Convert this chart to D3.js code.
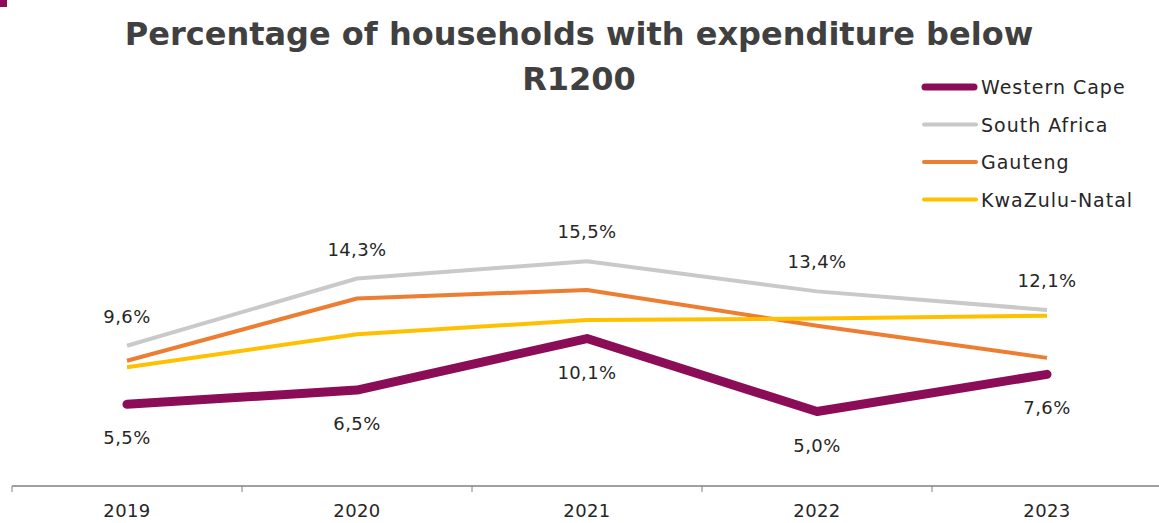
<!DOCTYPE html>
<html>
<head>
<meta charset="utf-8">
<script src="https://cdn.jsdelivr.net/npm/d3@7"></script>
<style>
    body { margin: 0; background: #fff; }
    svg { display: block; font-family: 'DejaVu Sans', sans-serif; }
</style>
</head>
<body>
<div id="chart"></div>
<script>
// Chart data
const years = ['2019', '2020', '2021', '2022', '2023'];
const westernCape = [5.5, 6.5, 10.1, 5.0, 7.6];
const southAfrica = [9.6, 14.3, 15.5, 13.4, 12.1];
const gauteng = [8.55, 12.9, 13.5, 11.0, 8.75];
const kwaZuluNatal = [8.1, 10.4, 11.4, 11.5, 11.7];
const seriesNames = ['Western Cape', 'South Africa', 'Gauteng', 'KwaZulu-Natal'];

const width = 1159,
    height = 523;

const svg = d3
    .select('#chart')
    .append('svg')
    .attr('width', width)
    .attr('height', height);

// small accent square in the corner
svg.append('rect').attr('x', 0).attr('y', 0).attr('width', 7).attr('height', 7).attr('fill', '#8B0D57');

// title
const title = svg
    .append('text')
    .attr('text-anchor', 'middle')
    .attr('fill', '#404040')
    .attr('font-weight', 'bold')
    .attr('font-size', 32);
title.append('tspan').attr('x', 579).attr('y', 45).text('Percentage of households with expenditure below');
title.append('tspan').attr('x', 579).attr('y', 90).text('R1200');

const x = d3.scaleBand().domain(years).range([12, 1162]);
const y = d3.scaleLinear().domain([0, 20]).range([483, 197]);

// x axis with ticks between categories
const axisG = svg.append('g').attr('transform', 'translate(0,486)');
axisG.append('line').attr('x1', 12).attr('x2', width).attr('stroke', '#808080').attr('stroke-width', 1.5);
axisG
    .selectAll('line.tick')
    .data(years)
    .enter()
    .append('line')
    .attr('class', 'tick')
    .attr('x1', (d) => x(d))
    .attr('x2', (d) => x(d))
    .attr('y1', 0)
    .attr('y2', 6)
    .attr('stroke', '#808080');
axisG
    .selectAll('text')
    .data(years)
    .enter()
    .append('text')
    .attr('x', (d) => x(d) + x.bandwidth() / 2)
    .attr('y', 31)
    .attr('text-anchor', 'middle')
    .attr('font-size', 18)
    .attr('letter-spacing', 0.4)
    .attr('fill', '#262626')
    .text((d) => d);

const series = [
    { name: seriesNames[1], values: southAfrica, color: '#C9C9C9', w: 4 },
    { name: seriesNames[2], values: gauteng, color: '#ED7D31', w: 4 },
    { name: seriesNames[3], values: kwaZuluNatal, color: '#FFC000', w: 4 },
    { name: seriesNames[0], values: westernCape, color: '#8B0D57', w: 9 }
];

const line = d3
    .line()
    .x((d, i) => x(years[i]) + x.bandwidth() / 2)
    .y((d) => y(d));

svg.selectAll('path.series')
    .data(series)
    .enter()
    .append('path')
    .attr('class', 'series')
    .attr('d', (s) => line(s.values))
    .attr('fill', 'none')
    .attr('stroke', (s) => s.color)
    .attr('stroke-width', (s) => s.w)
    .attr('stroke-linecap', (s) => (s.w > 5 ? 'round' : 'butt'))
    .attr('stroke-linejoin', 'round');

const fmt = (v) => v.toFixed(1).replace('.', ',') + '%';

// South Africa labels above, Western Cape labels below
svg.selectAll('text.saLabel')
    .data(southAfrica)
    .enter()
    .append('text')
    .attr('x', (d, i) => x(years[i]) + x.bandwidth() / 2)
    .attr('y', (d) => y(d) - 23)
    .attr('text-anchor', 'middle')
    .attr('font-size', 18)
    .attr('letter-spacing', 0.4)
    .attr('fill', '#262626')
    .text(fmt);

svg.selectAll('text.wcLabel')
    .data(westernCape)
    .enter()
    .append('text')
    .attr('x', (d, i) => x(years[i]) + x.bandwidth() / 2)
    .attr('y', (d) => y(d) + 40)
    .attr('text-anchor', 'middle')
    .attr('font-size', 18)
    .attr('letter-spacing', 0.4)
    .attr('fill', '#262626')
    .text(fmt);

// legend
const legendOrder = [series[3], series[0], series[1], series[2]];
const legend = svg
    .selectAll('g.legend')
    .data(legendOrder)
    .enter()
    .append('g')
    .attr('class', 'legend')
    .attr('transform', (d, i) => `translate(0,${87 + i * 37.5})`);
legend
    .append('line')
    .attr('x1', (d) => (d.w > 5 ? 925 : 924))
    .attr('x2', (d) => (d.w > 5 ? 974 : 976))
    .attr('stroke', (d) => d.color)
    .attr('stroke-width', (d) => (d.w > 5 ? 7 : 4))
    .attr('stroke-linecap', 'round');
legend
    .append('text')
    .attr('x', 981)
    .attr('y', 7)
    .attr('font-size', 19)
    .attr('letter-spacing', 1)
    .attr('fill', '#262626')
    .text((d) => d.name);
</script>
</body>
</html>
